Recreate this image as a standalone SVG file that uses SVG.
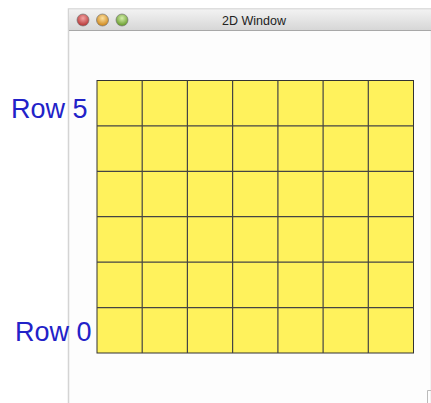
<svg xmlns="http://www.w3.org/2000/svg" width="431" height="403" viewBox="0 0 431 403">
<defs>
<linearGradient id="tb" x1="0" y1="0" x2="0" y2="1">
<stop offset="0" stop-color="#f2f2f2"/>
<stop offset="1" stop-color="#d6d6d6"/>
</linearGradient>
<radialGradient id="red" cx="0.5" cy="0.35" r="0.6"><stop offset="0" stop-color="#f3a3a3"/><stop offset="1" stop-color="#b83a3a"/></radialGradient>
<radialGradient id="yel" cx="0.5" cy="0.35" r="0.6"><stop offset="0" stop-color="#fbe0a0"/><stop offset="1" stop-color="#d08a20"/></radialGradient>
<radialGradient id="grn" cx="0.5" cy="0.35" r="0.6"><stop offset="0" stop-color="#d4eeaa"/><stop offset="1" stop-color="#6a9e30"/></radialGradient>
</defs>
<style>
.cell{fill:#fff25c;stroke:#333;stroke-width:1}
.lbl{font-family:"Liberation Sans",Arial,sans-serif;font-size:27px;fill:#2222c8}
.title{font-family:"Liberation Sans",Arial,sans-serif;font-size:12.5px;fill:#222}
.btn{stroke:#777;stroke-width:0.7}
</style>
<rect x="0" y="0" width="431" height="403" fill="#ffffff"/>
<g id="window">
<rect x="68.5" y="9" width="363" height="396" fill="#fdfdfd" stroke="#d4d4d4" stroke-width="1.5"/>
<rect x="69" y="9.5" width="362" height="21" fill="url(#tb)"/>
<line x1="69" y1="30.5" x2="431" y2="30.5" stroke="#a8a8a8" stroke-width="1"/>
<circle class="btn" cx="83" cy="20" r="6" fill="url(#red)"/>
<circle class="btn" cx="102.5" cy="20" r="6" fill="url(#yel)"/>
<circle class="btn" cx="122" cy="20" r="6" fill="url(#grn)"/>
<text class="title" x="254" y="24.5" text-anchor="middle">2D Window</text>
<path d="M427.5 403 V390.5 H431" fill="none" stroke="#bbb" stroke-width="1"/>
</g>
<g id="grid">
<rect class="cell" x="97" y="80.5" width="316.5" height="272.5"/>
<g stroke="#444" stroke-width="1.2" fill="none">
<path d="M142.2 80.5V353M187.4 80.5V353M232.6 80.5V353M277.9 80.5V353M323.1 80.5V353M368.3 80.5V353"/>
<path d="M97 125.9H413.5M97 171.3H413.5M97 216.7H413.5M97 262.2H413.5M97 307.6H413.5"/>
</g>
</g>
<g id="labels">
<text class="lbl" x="11" y="118">Row 5</text>
<text class="lbl" x="15" y="341">Row 0</text>
</g>
</svg>
